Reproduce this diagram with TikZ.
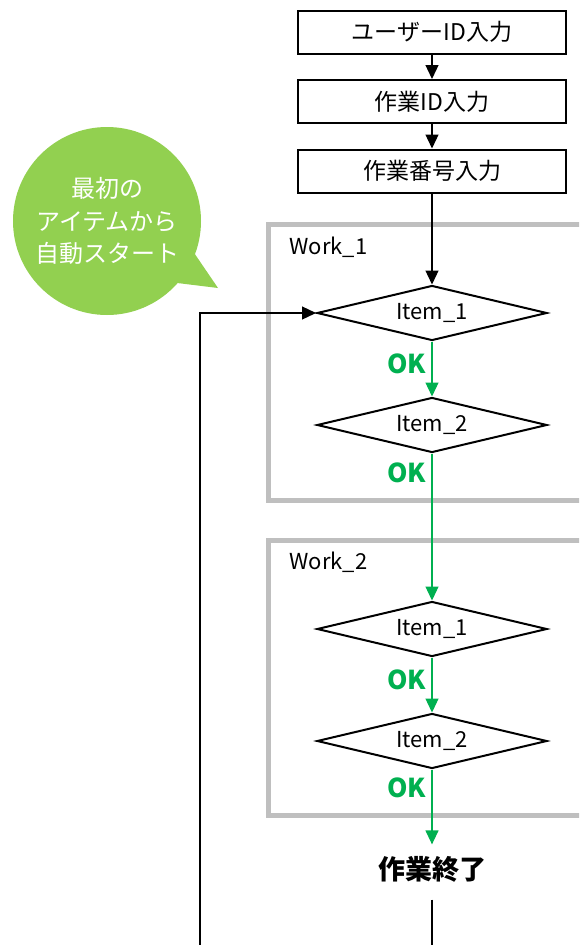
\documentclass[tikz,border=0pt]{standalone}
\usepackage{fontspec}
\setmainfont{Noto Sans CJK JP}
\usetikzlibrary{shapes.geometric,arrows.meta}
\definecolor{okgreen}{HTML}{00B050}
\definecolor{notegreen}{HTML}{92D050}
\definecolor{workgray}{HTML}{BFBFBF}

\begin{document}
\begin{tikzpicture}[>={Triangle[width=13pt,length=14pt]}, line width=1.3pt,
proc/.style={draw, rectangle, line width=2pt, minimum width=268pt, minimum height=43pt, font=\fontsize{23}{26}\selectfont},
check/.style={draw, diamond, aspect=4, line width=2pt, inner sep=0pt, minimum width=230pt, minimum height=55pt, font=\fontsize{22}{26}\selectfont},
work/.style={draw=workgray, line width=5pt},
ok/.style={left, inner sep=5pt, font=\bfseries\fontsize{26}{30}\selectfont},
okflow/.style={->, color=okgreen},
note/.style={circle, fill=notegreen, minimum size=188pt, inner sep=0pt, text=white, align=center, font=\fontsize{24}{32.5}\selectfont}]
\useasboundingbox (0pt,0pt) rectangle (579pt,-945pt);
\clip (0pt,0pt) rectangle (579pt,-945pt);
\draw[work] (268pt,-224pt) rectangle (600pt,-500pt);
\draw[work] (268pt,-540pt) rectangle (600pt,-815pt);
\fill[notegreen] (218pt,-288pt) -- (187pt,-242.5pt) -- (165pt,-281.5pt) -- cycle;
\draw (107.0pt, -221.0pt)node[note](note){最初の\\アイテムから\\自動スタート};
\draw (432.0pt, -32.0pt)node[proc](user){ユーザーID入力};
\draw (432.0pt, -101.5pt)node[proc](wid){作業ID入力};
\draw (432.0pt, -171.0pt)node[proc](wno){作業番号入力};
\draw (289.0pt, -247.0pt)node[anchor=west, inner sep=0pt, font=\fontsize{22}{26}\selectfont](w1){Work\_1};
\draw (289.0pt, -562.0pt)node[anchor=west, inner sep=0pt, font=\fontsize{22}{26}\selectfont](w2){Work\_2};
\draw (432.0pt, -313.0pt)node[check](a1){Item\_1};
\draw (432.0pt, -425.0pt)node[check](a2){Item\_2};
\draw (432.0pt, -629.0pt)node[check](b1){Item\_1};
\draw (432.0pt, -741.0pt)node[check](b2){Item\_2};
\draw (432.0pt, -869.0pt)node[inner sep=11pt, font=\bfseries\fontsize{27}{30}\selectfont](end){作業終了};
\coordinate (loopR) at (432.0pt, -980.0pt);
\coordinate (loopL) at (200.0pt, -980.0pt);
\path[->] (user) edge (wid);
\path[->] (wid) edge (wno);
\path[->] (wno) edge (a1);
\path[okflow] (a1) edge node[ok, pos=0.4]{OK}(a2);
\path[okflow] (a2) edge node[ok, pos=0.13]{OK}(b1);
\path[okflow] (b1) edge node[ok, pos=0.4]{OK}(b2);
\path[okflow] (b2) edge node[ok, pos=0.25]{OK}(end);
\draw[->, shorten <=6pt] (end) -- (loopR) -- (loopL) |- (a1);
\end{tikzpicture}
\end{document}
